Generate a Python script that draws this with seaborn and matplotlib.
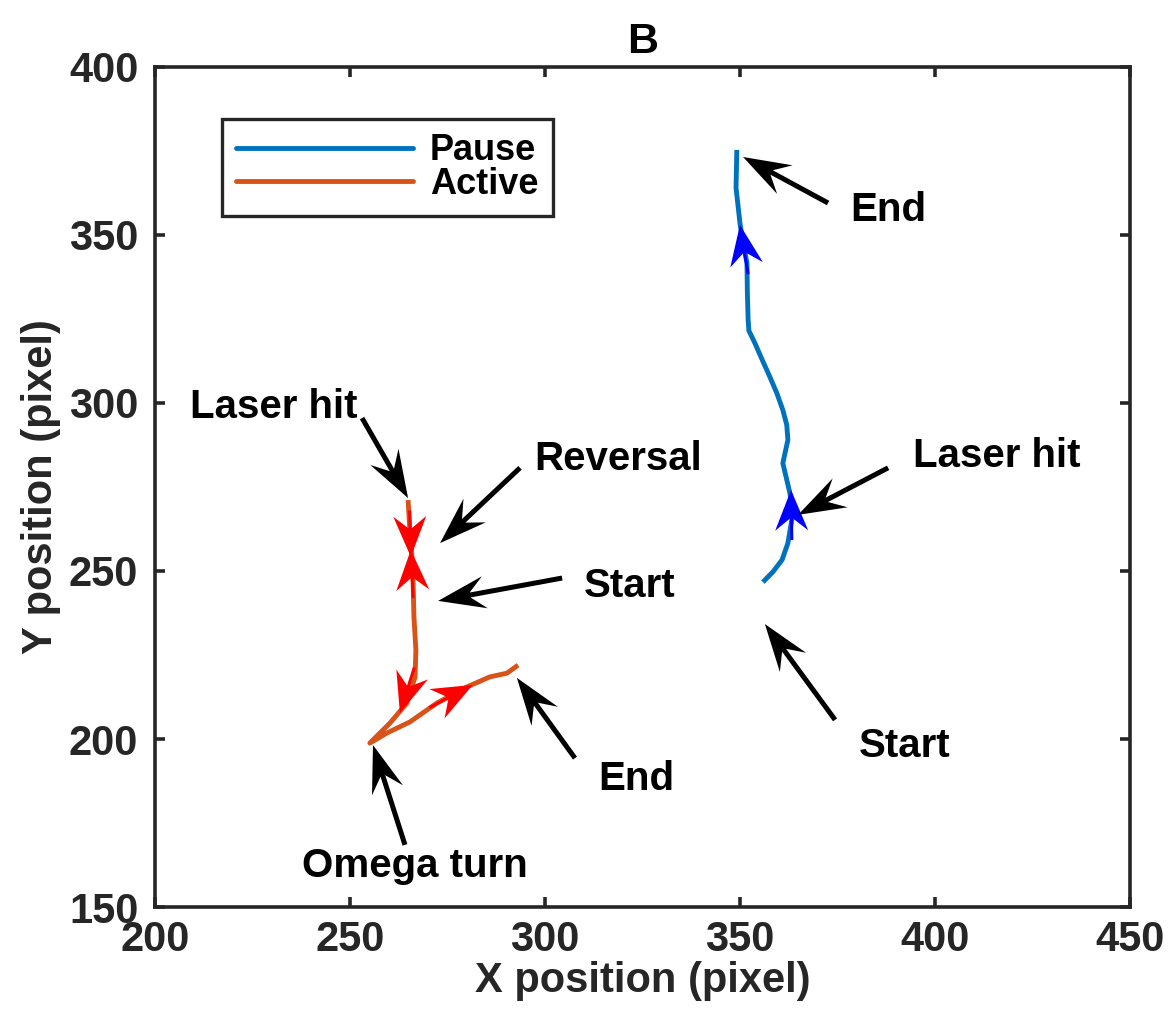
import numpy as np
import pandas as pd
import matplotlib
matplotlib.use("Agg")
import matplotlib.pyplot as plt
import seaborn as sns
from matplotlib.lines import Line2D

# ---------------- data ----------------
pause_x = [355.9, 358.5, 360.8, 362.3, 363.6, 362.8, 361.0, 362.3, 362.0, 361.0, 359.5, 357.7, 355.8, 353.8, 352.3, 352.1, 351.9, 351.8, 350.8, 350.0, 349.0, 349.2]
pause_y = [246.7, 249.8, 253.3, 258.3, 267.3, 273.2, 282.1, 289.0, 293.5, 297.9, 302.8, 307.7, 312.6, 317.9, 321.5, 324.7, 333.0, 341.7, 347.5, 353.6, 364.0, 375.3]

active_x = [264.9, 265.4, 265.9, 266.2, 266.4, 266.9, 266.7, 264.6, 260.3, 255.1,
            259.5, 265.4, 272.3, 280.0, 285.9, 290.3, 293.1]
active_y = [271.1, 261.3, 254.2, 246.4, 236.3, 226.5, 218.5, 210.7, 204.8, 198.8,
            201.8, 205.1, 210.7, 215.5, 218.5, 219.6, 222.0]

# direction arrowheads on the tracks (tail -> tip)
red_tail_x = [265.3, 266.2, 266.5, 270.4]
red_tail_y = [268.0, 242.0, 221.3, 209.35]
red_tip_x = [265.6, 265.6, 262.8, 281.5]
red_tip_y = [254.2, 256.3, 207.7, 216.1]

blue_tail_x = [352.1, 363.3]
blue_tail_y = [338.3, 259.2]
blue_tip_x = [350.0, 363.1]
blue_tip_y = [353.0, 274.1]

# annotations
ann_text = ["Laser hit", "Reversal", "Start", "End", "Omega turn", "End", "Laser hit", "Start"]
ann_text_x = [230.5, 318.7, 321.8, 323.3, 266.7, 388.0, 415.9, 392.1]
ann_text_y = [295.5, 280.1, 242.3, 184.8, 158.9, 354.2, 281.0, 194.6]
ann_tail_x = [253.1, 293.6, 304.4, 307.7, 264.1, 372.6, 388.0, 374.4]
ann_tail_y = [295.5, 280.7, 247.9, 194.3, 168.5, 359.5, 280.7, 205.7]
ann_tip_x = [264.9, 273.1, 272.6, 292.8, 255.9, 350.8, 364.9, 356.4]
ann_tip_y = [271.7, 258.3, 241.1, 218.2, 198.2, 373.2, 266.7, 234.2]

x_ticks = [200, 250, 300, 350, 400, 450]
y_ticks = [150, 200, 250, 300, 350, 400]

# ---------------- style ----------------
sns.set_style("ticks")
plt.rcParams["font.family"] = ["Liberation Sans", "DejaVu Sans"]
plt.rcParams["font.weight"] = "bold"
plt.rcParams["axes.labelweight"] = "bold"
plt.rcParams["axes.titleweight"] = "bold"

AX_COL = "#262626"
C_PAUSE = "#0072BD"
C_ACTIVE = "#D95319"

df = pd.concat([
    pd.DataFrame({"x": pause_x, "y": pause_y, "Condition": "Pause"}),
    pd.DataFrame({"x": active_x, "y": active_y, "Condition": "Active"}),
], ignore_index=True)

fig = plt.figure(figsize=(11.76, 10.14), dpi=100)
ax = fig.add_axes([0.1318, 0.1055, 0.829, 0.8285])

sns.lineplot(data=df, x="x", y="y", hue="Condition", sort=False, estimator=None,
             palette={"Pause": C_PAUSE, "Active": C_ACTIVE}, linewidth=3.5, ax=ax,
             legend=False)
for ln in ax.get_lines():
    ln.set_solid_joinstyle("round")
    ln.set_solid_capstyle("butt")

# track arrowheads
def heads(tx, ty, px, py, color):
    tx, ty, px, py = map(np.asarray, (tx, ty, px, py))
    ax.quiver(tx, ty, px - tx, py - ty, angles="xy", scale_units="xy", scale=1,
              units="dots", width=3, headwidth=11, headlength=13.5, headaxislength=9.5,
              color=color, zorder=5, linewidth=0)

heads(red_tail_x, red_tail_y, red_tip_x, red_tip_y, "#FF0000")
heads(blue_tail_x, blue_tail_y, blue_tip_x, blue_tip_y, "#0000FF")

# annotation arrows
tx, ty, px, py = map(np.asarray, (ann_tail_x, ann_tail_y, ann_tip_x, ann_tip_y))
ax.quiver(tx, ty, px - tx, py - ty, angles="xy", scale_units="xy", scale=1,
          units="dots", width=5, headwidth=6.5, headlength=9.5, headaxislength=6.5,
          color="black", zorder=6, linewidth=0)

for t, x, y in zip(ann_text, ann_text_x, ann_text_y):
    ax.text(x, y, t, ha="center", va="baseline", fontsize=29, fontweight="bold",
            color="black", zorder=7)

# legend
handles = [Line2D([], [], color=C_PAUSE, lw=3.5), Line2D([], [], color=C_ACTIVE, lw=3.5)]
leg = ax.legend(handles, ["Pause", "Active"], loc="upper left",
                bbox_to_anchor=(0.0687, 0.938), fontsize=26, frameon=True,
                fancybox=False, framealpha=1, borderpad=0.4, labelspacing=-0.05,
                handlelength=4.9, handletextpad=0.45, borderaxespad=0)
leg.get_frame().set_edgecolor(AX_COL)
leg.get_frame().set_linewidth(2.4)
for txt in leg.get_texts():
    txt.set_fontweight("bold")
    txt.set_color("black")

# axes
ax.set_xlim(200, 450)
ax.set_ylim(150, 400)
ax.set_xticks(x_ticks)
ax.set_yticks(y_ticks)
for s in ax.spines.values():
    s.set_visible(True)
    s.set_linewidth(2.6)
    s.set_color(AX_COL)
ax.tick_params(direction="in", length=7, width=2.6, top=True, right=True,
               labelsize=30, colors=AX_COL, labelcolor=AX_COL)
ax.tick_params(axis="x", pad=9)
ax.tick_params(axis="y", pad=12)
for lab in ax.get_xticklabels() + ax.get_yticklabels():
    lab.set_fontweight("bold")

ax.set_xlabel("X position (pixel)", fontsize=30, fontweight="bold", color=AX_COL, labelpad=1)
ax.set_ylabel("Y position (pixel)", fontsize=30, fontweight="bold", color=AX_COL, labelpad=6)
ax.set_title("B", fontsize=31, fontweight="bold", color="black", pad=10)

fig.savefig("out.png", dpi=100)
